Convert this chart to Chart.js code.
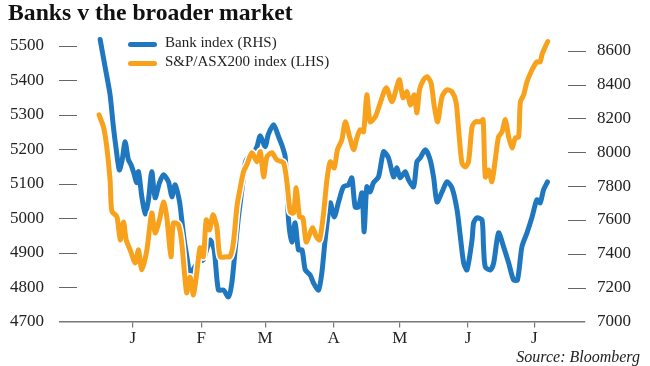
<!DOCTYPE html>
<html>
<head>
<meta charset="utf-8">
<script src="https://cdn.jsdelivr.net/npm/chart.js@4.4.1/dist/chart.umd.min.js"></script>
<style>
  html, body { margin: 0; padding: 0; background: #fff; }
  #wrap { position: relative; width: 650px; height: 366px; overflow: hidden; }
  #chart { position: absolute; left: 0; top: 0; }
  .title { position: absolute; left: 8px; top: 1px; font: bold 23.7px "Liberation Serif", serif; line-height: 1; color: #111; white-space: nowrap; }
  .legend { position: absolute; left: 128px; font: 15px "Liberation Serif", serif; line-height: 1; color: #222; white-space: nowrap; }
  .legend i { position: absolute; left: 0; width: 29px; height: 5px; border-radius: 3px; }
  .legend span { position: absolute; left: 37px; top: 0; }
  .source { position: absolute; right: 10px; top: 349px; font: italic 16px "Liberation Serif", serif; line-height: 1; color: #222; }
</style>
</head>
<body>
<div id="wrap">
  <canvas id="chart" width="650" height="366"></canvas>
  <div class="title">Banks v the broader market</div>
  <div class="legend" style="top:35px"><i style="top:7px;background:#1f77c0"></i><span>Bank index (RHS)</span></div>
  <div class="legend" style="top:54px"><i style="top:7px;background:#f8a11d"></i><span>S&amp;P/ASX200 index (LHS)</span></div>
  <div class="source">Source: Bloomberg</div>
</div>
<script>
'use strict';

/* ── Data (x = days from 1 Dec) ───────────────────────── */
const MONTH_DAYS   = [31, 62, 91, 122, 152, 183, 213];
const MONTH_LABELS = ['J', 'F', 'M', 'A', 'M', 'J', 'J'];
const LEFT_TICKS   = [4700, 4800, 4900, 5000, 5100, 5200, 5300, 5400, 5500];
const RIGHT_TICKS  = [7000, 7200, 7400, 7600, 7800, 8000, 8200, 8400, 8600];

const bankDays = [16.2, 18.5, 20.7, 22.1, 23.5, 24.9, 26.2, 27.5, 29.0, 30.2, 31.3, 32.8, 33.6, 35.1, 36.6, 38.1,
  39.6, 41.1, 43.1, 44.9, 47.2, 48.7, 50.2, 52.2, 53.2, 54.3, 55.6, 57.0, 58.8, 60.6, 62.9, 64.7, 66.1, 67.9,
  69.8, 72.1, 74.4, 75.9, 77.4, 78.9, 81.2, 82.0, 83.4, 85.7, 87.3, 88.8, 91.0, 92.4, 94.8, 97.1, 98.7, 100.1,
  101.6, 103.1, 104.6, 106.1, 107.7, 109.2, 111.4, 112.9, 115.2, 116.7, 118.2, 120.5, 122.3, 124.3, 126.5, 128.8,
  130.3, 131.8, 133.3, 134.9, 135.9, 137.1, 138.6, 140.1, 142.4, 144.7, 146.9, 149.2, 150.7, 152.2, 154.5, 156.0,
  158.3, 159.8, 161.3, 163.6, 165.8, 167.4, 168.9, 171.2, 173.4, 175.7, 178.0, 179.5, 181.0, 182.5, 184.8, 185.5,
  187.0, 189.3, 190.0, 190.8, 193.1, 194.6, 196.8, 199.1, 201.4, 203.6, 205.4, 207.4, 209.7, 212.0, 214.2, 215.7,
  217.2, 219.0];
const bankValues = [8666, 8500, 8340, 8163, 8015, 7896, 7956, 8062, 7956, 7926, 7885, 7820, 7885, 7737, 7636, 7719,
  7885, 7731, 7820, 7867, 7825, 7737, 7808, 7707, 7601, 7482, 7376, 7275, 7317, 7352, 7364, 7435, 7482, 7423,
  7186, 7186, 7145, 7228, 7423, 7618, 7855, 7938, 7973, 7997, 8033, 8098, 8033, 8104, 8163, 8092, 8038, 7973,
  7601, 7470, 7583, 7423, 7423, 7305, 7275, 7228, 7186, 7287, 7482, 7701, 7618, 7707, 7796, 7808,
  7849, 7677, 7677, 7760, 7530, 7796, 7766, 7820, 7855, 8003, 7967, 7855, 7908, 7849, 7885, 7837,
  7796, 7944, 7967, 8015, 7956, 7849, 7707, 7766, 7825, 7790, 7660, 7500, 7346, 7305, 7482, 7583,
  7612, 7601, 7441, 7322, 7305, 7346, 7524, 7441, 7346, 7246, 7246, 7441, 7524, 7618, 7719, 7701,
  7778, 7825];

const asxDays = [15.7, 17.7, 19.2, 20.7, 21.5, 23.8, 25.3, 26.8, 28.0, 29.8, 32.1, 33.6, 35.1, 37.4, 39.6, 41.1,
  43.1, 44.9, 46.4, 48.3, 49.4, 51.7, 53.2, 54.7, 55.5, 57.0, 58.5, 60.0, 61.5, 63.0, 64.3, 65.8, 67.3, 69.1,
  70.6, 73.7, 75.1, 76.6, 78.2, 79.7, 81.2, 82.7, 85.0, 87.3, 88.8, 90.3, 91.8, 94.1, 96.3, 99.3, 100.9, 102.4,
  103.9, 105.1, 106.6, 108.1, 109.6, 111.4, 112.6, 114.2, 115.7, 117.5, 119.0, 120.5, 122.3, 123.8, 125.8, 127.3,
  129.3, 131.1, 132.6, 134.1, 135.6, 137.1, 138.6, 140.9, 143.2, 145.9, 148.5, 150.7, 151.9, 153.5, 155.3, 156.8,
  158.6, 159.8, 161.0, 162.8, 164.4, 166.2, 167.7, 169.2, 171.2, 173.4, 175.7, 177.6, 178.7, 180.2, 181.7, 183.2,
  184.8, 186.3, 188.5, 189.8, 190.8, 192.3, 193.8, 195.3, 196.8, 198.4, 199.9, 201.4, 202.9, 204.4, 205.9, 206.7,
  208.2, 209.7, 212.0, 214.2, 215.7, 216.5, 218.0, 219.1];
const asxValues = [5300, 5265, 5207, 5111, 5021, 5004, 4937, 4989, 4937, 4908, 4870, 4908, 4850, 4908, 5015, 4957,
  4995, 5047, 5004, 4888, 4986, 4981, 4928, 4821, 4783, 4829, 4777, 4841, 4914, 4888, 4995, 4966, 5010, 4975,
  4888, 4888, 4888, 4928, 5033, 5088, 5135, 5155, 5190, 5164, 5193, 5120, 5178, 5190, 5169, 5161, 5103, 5018,
  5015, 5088, 5004, 5001, 4931, 4957, 4972, 4946, 4937, 5015, 5111, 5164, 5146, 5199, 5228, 5280,
  5236, 5199, 5233, 5257, 5251, 5358, 5280, 5294, 5335, 5379, 5338, 5382, 5402, 5350, 5367, 5329,
  5358, 5306, 5373, 5402, 5411, 5393, 5324, 5280, 5353, 5373, 5367, 5335, 5257, 5161, 5149, 5164,
  5265, 5280, 5280, 5286, 5120, 5140, 5106, 5169, 5236, 5251, 5286, 5236, 5204, 5233, 5236, 5338,
  5358, 5396, 5431, 5454, 5454, 5475, 5498, 5513];

const BLUE   = '#1f77c0';
const ORANGE = '#f8a11d';
const FONT   = { family: '"Liberation Serif", serif', size: 17 };

const points = (xs, ys) => xs.map((x, i) => ({ x, y: ys[i] }));

/* ── Short tick dashes inside the plot ────────────────── */
const tickDashes = {
  id: 'tickDashes',
  beforeDatasetsDraw(chart) {
    const { ctx, chartArea, scales } = chart;
    ctx.save();
    ctx.strokeStyle = '#666';
    ctx.lineWidth = 1;
    ctx.beginPath();
    LEFT_TICKS.slice(1).forEach(v => {
      const y = Math.round(scales.y.getPixelForValue(v)) + 0.5;
      ctx.moveTo(chartArea.left - 1, y); ctx.lineTo(chartArea.left + 17, y);
    });
    RIGHT_TICKS.slice(1).forEach(v => {
      const y = Math.round(scales.y1.getPixelForValue(v)) + 0.5;
      ctx.moveTo(chartArea.right - 17, y); ctx.lineTo(chartArea.right + 1, y);
    });
    ctx.stroke();
    ctx.restore();
  }
};

const lineStyle = {
  fill: false, pointRadius: 0, tension: 0.25, clip: false,
  borderJoinStyle: 'round', borderCapStyle: 'round'
};

new Chart(document.getElementById('chart'), {
  type: 'line',
  data: {
    datasets: [
      { ...lineStyle, label: 'S&P/ASX200 index (LHS)', data: points(asxDays, asxValues),
        yAxisID: 'y', borderColor: ORANGE, borderWidth: 5, order: 0 },
      { ...lineStyle, label: 'halo', data: points(asxDays, asxValues),
        yAxisID: 'y', borderColor: '#fff', borderWidth: 8, order: 1 },
      { ...lineStyle, label: 'Bank index (RHS)', data: points(bankDays, bankValues),
        yAxisID: 'y1', borderColor: BLUE, borderWidth: 5, order: 2 }
    ]
  },
  options: {
    responsive: false,
    animation: false,
    devicePixelRatio: 1,
    layout: { padding: { top: 46, left: 0, right: 0, bottom: 0 } },
    plugins: { legend: { display: false }, tooltip: { enabled: false } },
    scales: {
      x: {
        type: 'linear', min: -2, max: 236,
        afterBuildTicks: s => { s.ticks = MONTH_DAYS.map(v => ({ value: v })); },
        afterFit: s => { s.height = 44.5; },
        border: { display: true, color: '#777', width: 1.5 },
        grid: { display: true, drawOnChartArea: false, drawTicks: true, tickLength: 6, color: '#777', lineWidth: 1.2 },
        ticks: {
          padding: 1, color: '#222', font: FONT, maxRotation: 0, autoSkip: false,
          callback: v => MONTH_LABELS[MONTH_DAYS.indexOf(v)]
        }
      },
      y: {
        position: 'left', min: 4700, max: 5500,
        afterBuildTicks: s => { s.ticks = LEFT_TICKS.map(v => ({ value: v })); },
        afterFit: s => { s.width = 60; },
        border: { display: false },
        grid: { display: false, drawTicks: false },
        ticks: { padding: 16, color: '#222', font: FONT, callback: v => String(v) }
      },
      y1: {
        position: 'right', min: 7000, max: 8628,
        afterBuildTicks: s => { s.ticks = RIGHT_TICKS.map(v => ({ value: v })); },
        afterFit: s => { s.width = 65; },
        border: { display: false },
        grid: { display: false, drawTicks: false },
        ticks: { padding: 12, color: '#222', font: FONT, callback: v => String(v) }
      }
    }
  },
  plugins: [tickDashes]
});
</script>
</body>
</html>
